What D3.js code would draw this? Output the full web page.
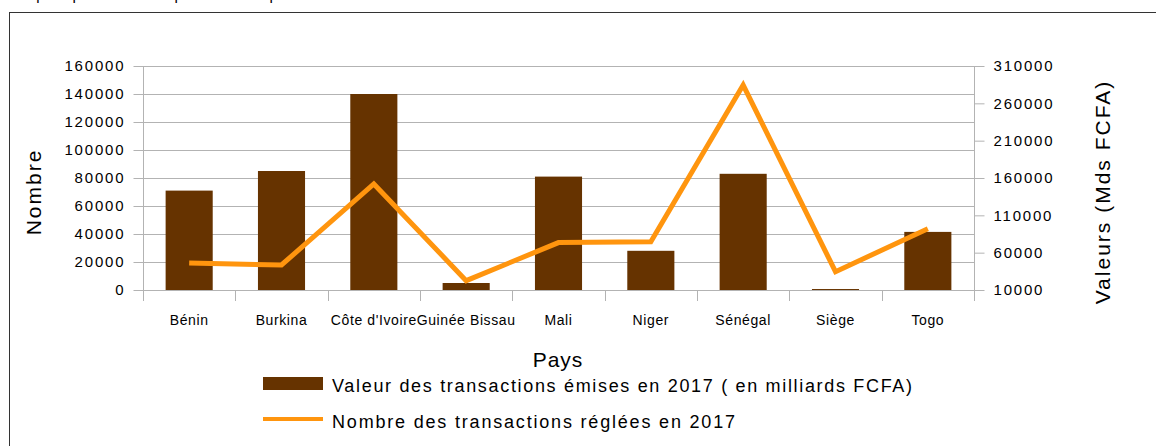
<!DOCTYPE html>
<html><head><meta charset="utf-8">
<script src="https://cdn.jsdelivr.net/npm/d3@7"></script>
<style>
body{margin:0;background:#fff;}
svg text{font-family:"Liberation Sans",Arial,sans-serif;fill:#000;}
</style></head>
<body><svg id="c" width="1156" height="446"></svg>
<script>
const categories = ["Bénin","Burkina","Côte d'Ivoire","Guinée Bissau","Mali","Niger","Sénégal","Siège","Togo"];
const barValues = [71000, 85000, 140000, 5000, 81000, 28000, 83000, 700, 41500];
const lineValues = [46000, 43500, 152000, 22500, 73500, 74700, 284500, 34500, 92000];
const leftTicks = [0,20000,40000,60000,80000,100000,120000,140000,160000];
const rightTicks = [10000,60000,110000,160000,210000,260000,310000];
const barName = "Valeur des transactions émises en 2017 ( en milliards FCFA)";
const lineName = "Nombre des transactions réglées en 2017";
const titleText = "Graphique 4 : Répartition par site du nombre et de la valeur des transactions en 2017";

const svg = d3.select("#c");
const L = 143, R = 974, T = 66, B = 290;
const grid = "#b3b3b3";

// title (cut off at top, as in the source)
svg.append("text").attr("x",0).attr("y",0).attr("font-size",15).attr("fill","#000")
  .attr("textLength",883).attr("lengthAdjust","spacing").text(titleText);

// outer frame
svg.append("rect").attr("x",9.5).attr("y",12.5).attr("width",1160).attr("height",450)
  .attr("fill","none").attr("stroke","#333").attr("stroke-width",1);

const x = d3.scaleBand().domain(categories).range([L,R]).padding(0);
const yL = d3.scaleLinear().domain([0,160000]).range([B,T]);
const yR = d3.scaleLinear().domain([10000,310000]).range([B,T]);

// gridlines
svg.append("g").selectAll("line").data(leftTicks).join("line")
  .attr("x1",L).attr("x2",R).attr("y1",d=>Math.round(yL(d))+0.5).attr("y2",d=>Math.round(yL(d))+0.5)
  .attr("stroke",grid).attr("stroke-width",1);

// bars
const bw = x.bandwidth()*0.51;
svg.append("g").selectAll("rect").data(categories).join("rect")
  .attr("x",(d)=>x(d)+x.bandwidth()/2-bw/2).attr("width",bw)
  .attr("y",(d,i)=>yL(barValues[i])).attr("height",(d,i)=>B-yL(barValues[i]))
  .attr("fill","#663300");

// axes
const axL = svg.append("g").attr("transform",`translate(${L+0.5},0)`)
  .call(d3.axisLeft(yL).tickValues(leftTicks).tickSize(10).tickPadding(10).tickFormat(d3.format("d")));
const axR = svg.append("g").attr("transform",`translate(${R+0.5},0)`)
  .call(d3.axisRight(yR).tickValues(rightTicks).tickSize(10).tickPadding(9).tickFormat(d3.format("d")));
[axL,axR].forEach(a=>{
  a.select(".domain").remove();
  a.selectAll("line").attr("stroke",grid);
  a.selectAll("text").attr("font-size",15).attr("font-family","Liberation Sans, Arial").attr("letter-spacing","1.8px");
});
axL.selectAll("text").attr("dx","1.8px");
// vertical axis lines
svg.append("line").attr("x1",L+0.5).attr("x2",L+0.5).attr("y1",T).attr("y2",B+11).attr("stroke",grid);
svg.append("line").attr("x1",R+0.5).attr("x2",R+0.5).attr("y1",T).attr("y2",B+11).attr("stroke",grid);
// bottom axis line + category separators
svg.append("line").attr("x1",L).attr("x2",R).attr("y1",B+0.5).attr("y2",B+0.5).attr("stroke",grid);
svg.append("g").selectAll("line").data(categories.slice(1)).join("line")
  .attr("x1",d=>Math.round(x(d))+0.5).attr("x2",d=>Math.round(x(d))+0.5).attr("y1",B).attr("y2",B+11)
  .attr("stroke",grid);
svg.append("g").selectAll("text").data(categories).join("text")
  .attr("x",d=>x(d)+x.bandwidth()/2).attr("y",325).attr("text-anchor","middle")
  .attr("font-size",14).attr("letter-spacing","0.6px").text(d=>d);

// line
const line = d3.line().x((d,i)=>x(categories[i])+x.bandwidth()/2).y(d=>yR(d));
svg.append("path").datum(lineValues).attr("d",line).attr("fill","none")
  .attr("stroke","#ff950e").attr("stroke-width",5).attr("stroke-linejoin","miter");

// axis titles
svg.append("text").attr("transform","translate(41,192) rotate(-90)").attr("text-anchor","middle")
  .attr("font-size",21).attr("letter-spacing","2px").text("Nombre");
svg.append("text").attr("transform","translate(1110,192) rotate(-90)").attr("text-anchor","middle")
  .attr("font-size",21).attr("letter-spacing","2px").text("Valeurs (Mds FCFA)");
svg.append("text").attr("x",558).attr("y",367).attr("text-anchor","middle").attr("font-size",21).attr("letter-spacing","1px").text("Pays");

// legend
svg.append("rect").attr("x",263).attr("y",377).attr("width",60).attr("height",13).attr("fill","#663300");
svg.append("text").attr("x",332).attr("y",392).attr("font-size",18).attr("textLength",580).attr("lengthAdjust","spacing").text(barName);
svg.append("line").attr("x1",263).attr("x2",323).attr("y1",419).attr("y2",419).attr("stroke","#ff950e").attr("stroke-width",4);
svg.append("text").attr("x",332).attr("y",428).attr("font-size",18).attr("textLength",403).attr("lengthAdjust","spacing").text(lineName);
</script></body></html>
